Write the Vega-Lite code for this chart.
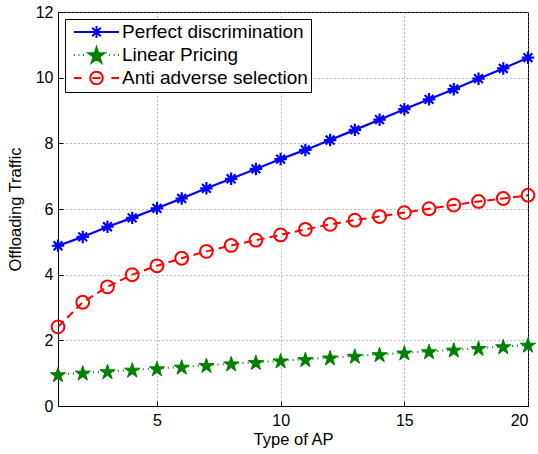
{
  "$schema": "https://vega.github.io/schema/vega-lite/v6.json",
  "width": 470,
  "height": 394,
  "autosize": "none",
  "padding": {"left": 58, "top": 12, "right": 10, "bottom": 48},
  "background": "white",
  "config": {
    "view": {"stroke": "black", "strokeWidth": 1},
    "font": "Liberation Sans",
    "axis": {
      "domainColor": "black",
      "domainWidth": 1,
      "tickColor": "black",
      "tickSize": -5,
      "labelColor": "black",
      "labelFont": "Liberation Sans",
      "labelFontSize": 16,
      "titleFont": "Liberation Sans",
      "titleFontSize": 16.5,
      "titleFontWeight": "normal",
      "titleColor": "black",
      "grid": true,
      "gridColor": "#7a7a7a",
      "gridDash": [1, 3],
      "gridWidth": 1,
      "gridOpacity": 1
    }
  },
  "data": {
    "values": [
      {"x": 1, "v": 4.88, "series": "Perfect discrimination"},
      {"x": 2, "v": 5.15, "series": "Perfect discrimination"},
      {"x": 3, "v": 5.46, "series": "Perfect discrimination"},
      {"x": 4, "v": 5.73, "series": "Perfect discrimination"},
      {"x": 5, "v": 6.02, "series": "Perfect discrimination"},
      {"x": 6, "v": 6.32, "series": "Perfect discrimination"},
      {"x": 7, "v": 6.63, "series": "Perfect discrimination"},
      {"x": 8, "v": 6.92, "series": "Perfect discrimination"},
      {"x": 9, "v": 7.22, "series": "Perfect discrimination"},
      {"x": 10, "v": 7.52, "series": "Perfect discrimination"},
      {"x": 11, "v": 7.8, "series": "Perfect discrimination"},
      {"x": 12, "v": 8.1, "series": "Perfect discrimination"},
      {"x": 13, "v": 8.41, "series": "Perfect discrimination"},
      {"x": 14, "v": 8.72, "series": "Perfect discrimination"},
      {"x": 15, "v": 9.04, "series": "Perfect discrimination"},
      {"x": 16, "v": 9.34, "series": "Perfect discrimination"},
      {"x": 17, "v": 9.65, "series": "Perfect discrimination"},
      {"x": 18, "v": 9.97, "series": "Perfect discrimination"},
      {"x": 19, "v": 10.28, "series": "Perfect discrimination"},
      {"x": 20, "v": 10.61, "series": "Perfect discrimination"},
      {"x": 1, "v": 0.96, "series": "Linear Pricing"},
      {"x": 2, "v": 1.01, "series": "Linear Pricing"},
      {"x": 3, "v": 1.05, "series": "Linear Pricing"},
      {"x": 4, "v": 1.1, "series": "Linear Pricing"},
      {"x": 5, "v": 1.14, "series": "Linear Pricing"},
      {"x": 6, "v": 1.19, "series": "Linear Pricing"},
      {"x": 7, "v": 1.24, "series": "Linear Pricing"},
      {"x": 8, "v": 1.29, "series": "Linear Pricing"},
      {"x": 9, "v": 1.33, "series": "Linear Pricing"},
      {"x": 10, "v": 1.38, "series": "Linear Pricing"},
      {"x": 11, "v": 1.42, "series": "Linear Pricing"},
      {"x": 12, "v": 1.47, "series": "Linear Pricing"},
      {"x": 13, "v": 1.52, "series": "Linear Pricing"},
      {"x": 14, "v": 1.57, "series": "Linear Pricing"},
      {"x": 15, "v": 1.62, "series": "Linear Pricing"},
      {"x": 16, "v": 1.66, "series": "Linear Pricing"},
      {"x": 17, "v": 1.71, "series": "Linear Pricing"},
      {"x": 18, "v": 1.76, "series": "Linear Pricing"},
      {"x": 19, "v": 1.81, "series": "Linear Pricing"},
      {"x": 20, "v": 1.86, "series": "Linear Pricing"},
      {"x": 1, "v": 2.41, "series": "Anti adverse selection"},
      {"x": 2, "v": 3.16, "series": "Anti adverse selection"},
      {"x": 3, "v": 3.63, "series": "Anti adverse selection"},
      {"x": 4, "v": 4.0, "series": "Anti adverse selection"},
      {"x": 5, "v": 4.27, "series": "Anti adverse selection"},
      {"x": 6, "v": 4.5, "series": "Anti adverse selection"},
      {"x": 7, "v": 4.71, "series": "Anti adverse selection"},
      {"x": 8, "v": 4.89, "series": "Anti adverse selection"},
      {"x": 9, "v": 5.05, "series": "Anti adverse selection"},
      {"x": 10, "v": 5.21, "series": "Anti adverse selection"},
      {"x": 11, "v": 5.38, "series": "Anti adverse selection"},
      {"x": 12, "v": 5.53, "series": "Anti adverse selection"},
      {"x": 13, "v": 5.66, "series": "Anti adverse selection"},
      {"x": 14, "v": 5.77, "series": "Anti adverse selection"},
      {"x": 15, "v": 5.89, "series": "Anti adverse selection"},
      {"x": 16, "v": 6.01, "series": "Anti adverse selection"},
      {"x": 17, "v": 6.12, "series": "Anti adverse selection"},
      {"x": 18, "v": 6.23, "series": "Anti adverse selection"},
      {"x": 19, "v": 6.32, "series": "Anti adverse selection"},
      {"x": 20, "v": 6.42, "series": "Anti adverse selection"}
    ]
  },
  "encoding": {
    "x": {
      "field": "x",
      "type": "quantitative",
      "title": "Type of AP",
      "scale": {"domain": [1, 20], "nice": false, "zero": false},
      "axis": {"values": [5, 10, 15, 20], "labelPadding": 11, "titlePadding": 3}
    },
    "y": {
      "field": "v",
      "type": "quantitative",
      "title": "Offloading Traffic",
      "scale": {"domain": [0, 12], "nice": false},
      "axis": {"values": [0, 2, 4, 6, 8, 10, 12], "labelPadding": 10, "titlePadding": 12}
    }
  },
  "layer": [
    {
      "mark": {"type": "point", "filled": false, "opacity": 0, "strokeWidth": 2},
      "encoding": {
        "color": {
          "field": "series",
          "type": "nominal",
          "scale": {
            "domain": ["Perfect discrimination", "Linear Pricing", "Anti adverse selection"],
            "range": ["#0000ff", "#008000", "#ff0000"]
          },
          "legend": {
            "orient": "top-left",
            "offset": 7,
            "title": null,
            "fillColor": "white",
            "strokeColor": "black",
            "cornerRadius": 0,
            "padding": 3,
            "labelFont": "Liberation Sans",
            "labelFontSize": 19,
            "labelColor": "black",
            "labelLimit": 0,
            "labelOffset": 15.5,
            "symbolOffset": 18.5,
            "symbolSize": 324,
            "symbolStrokeWidth": 2,
            "symbolOpacity": 1,
            "rowPadding": 0
          }
        },
        "shape": {
          "field": "series",
          "type": "nominal",
          "scale": {
            "domain": ["Perfect discrimination", "Linear Pricing", "Anti adverse selection"],
            "range": [
              "M-2.5,0H2.5M-0.675,0H0.675M0,-0.675V0.675M-0.475,-0.475L0.475,0.475M-0.475,0.475L0.475,-0.475",
              "M-2.5,0H-2.4M-2,0H-1.9M-1.5,0H-1.4M1.4,0H1.5M1.9,0H2M2.4,0H2.5M0,-0.815L0.2025,-0.1925L0.855,-0.1925L0.3275,0.1925L0.53,0.815L0,0.43L-0.53,0.815L-0.3275,0.1925L-0.855,-0.1925L-0.2025,-0.1925ZM0,-0.4525L0.1125,-0.1075L0.475,-0.1075L0.1825,0.1075L0.295,0.4525L0,0.24L-0.295,0.4525L-0.1825,0.1075L-0.475,-0.1075L-0.1125,-0.1075ZM-0.15,0H0.15",
              "M-2.5,0H-1.65M1.65,0H2.5M-0.45,0H0.45M0.7,0A0.7,0.7 0 1,1 -0.7,0A0.7,0.7 0 1,1 0.7,0Z"
            ]
          },
          "legend": {
            "orient": "top-left",
            "offset": 7,
            "title": null,
            "fillColor": "white",
            "strokeColor": "black",
            "cornerRadius": 0,
            "padding": 3,
            "labelFont": "Liberation Sans",
            "labelFontSize": 19,
            "labelColor": "black",
            "labelLimit": 0,
            "labelOffset": 15.5,
            "symbolOffset": 18.5,
            "symbolSize": 324,
            "symbolStrokeWidth": 2,
            "symbolOpacity": 1,
            "rowPadding": 0
          }
        }
      }
    },
    {
      "transform": [{"filter": "datum.series === 'Perfect discrimination'"}],
      "mark": {"type": "line", "strokeWidth": 2.2, "color": "#0000ff"},
      "encoding": {}
    },
    {
      "transform": [{"filter": "datum.series === 'Linear Pricing'"}],
      "mark": {"type": "line", "strokeWidth": 2, "strokeDash": [1, 4], "color": "#008000"},
      "encoding": {}
    },
    {
      "transform": [{"filter": "datum.series === 'Anti adverse selection'"}],
      "mark": {"type": "line", "strokeWidth": 2, "strokeDash": [8, 5], "color": "#ff0000"},
      "encoding": {}
    },
    {
      "transform": [{"filter": "datum.series === 'Perfect discrimination'"}],
      "mark": {"type": "point", "filled": false, "size": 256, "strokeWidth": 2.2, "opacity": 1, "color": "#0000ff", "shape": "M-0.78,0H0.78M0,-0.78V0.78M-0.55,-0.55L0.55,0.55M-0.55,0.55L0.55,-0.55"},
      "encoding": {}
    },
    {
      "transform": [{"filter": "datum.series === 'Linear Pricing'"}],
      "mark": {"type": "point", "filled": true, "size": 256, "strokeWidth": 1, "opacity": 1, "color": "#008000", "stroke": "#008000", "shape": "M0,-0.9045L0.2245,-0.2135L0.951,-0.2135L0.363,0.2135L0.588,0.9045L0,0.4775L-0.588,0.9045L-0.363,0.2135L-0.951,-0.2135L-0.2245,-0.2135Z"},
      "encoding": {}
    },
    {
      "transform": [{"filter": "datum.series === 'Anti adverse selection'"}],
      "mark": {"type": "point", "filled": false, "size": 256, "strokeWidth": 2, "opacity": 1, "color": "#ff0000", "shape": "M0.8,0A0.8,0.8 0 1,1 -0.8,0A0.8,0.8 0 1,1 0.8,0Z"},
      "encoding": {}
    }
  ]
}
